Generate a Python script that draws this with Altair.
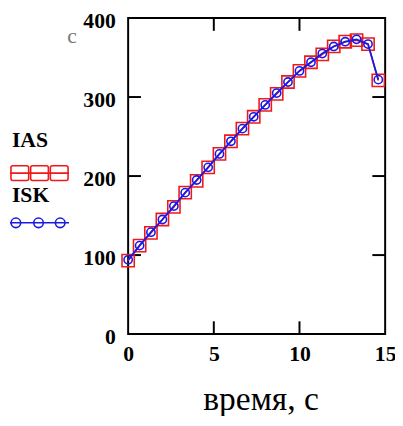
import altair as alt
import pandas as pd

# ---- data ----
time_s = [0, 0.67, 1.33, 2, 2.67, 3.33, 4, 4.67, 5.33, 6, 6.67, 7.33,
          8, 8.67, 9.33, 10, 10.67, 11.33, 12, 12.67, 13.33, 14, 14.6]
ias = [93, 112, 128, 145, 161, 179, 194, 211, 228, 244, 260, 275,
       290, 304, 319, 333, 344, 354, 364, 370, 372, 367, 321]
isk = [94, 112, 129, 145, 162, 179, 195, 211, 228, 244, 260, 275,
       290, 305, 319, 333, 344, 355, 364, 370, 373, 367, 322]
series_names = ["IAS", "ISK"]
x_tick_labels = [0, 5, 10, 15]
y_tick_labels = [0, 100, 200, 300, 400]
x_inner_ticks = [5, 10]
y_inner_ticks = [100, 200, 300]
x_title = "время, с"

RED = "#f01818"
BLUE = "#1a1ae6"
SERIF = "Liberation Serif"
W, H = 261, 321
TICK = 13

n = len(time_s)
df = pd.DataFrame({
    "t": time_s + time_s,
    "v": ias + isk,
    "s": [series_names[0]] * n + [series_names[1]] * n,
})

xs = alt.Scale(domain=[0, 15], nice=False, zero=False)
ys = alt.Scale(domain=[0, 400], nice=False, zero=False)

x_axis = alt.Axis(values=x_tick_labels, grid=False, domain=False, ticks=False,
                  labelFont=SERIF, labelFontWeight="bold", labelFontSize=22,
                  labelColor="black", labelPadding=10, labelAngle=0,
                  labelFlush=False, titleFont=SERIF, titleFontSize=34,
                  titleFontWeight="normal", titleColor="black", titlePadding=19,
                  titleX=W / 2 + 4)
y_axis = alt.Axis(values=y_tick_labels, grid=False, domain=False, ticks=False,
                  labelFont=SERIF, labelFontWeight="bold", labelFontSize=22,
                  labelColor="black", labelPadding=13, labelFlush=False,
                  labelOffset=2.5)


def X(field):
    return alt.X(field, type="quantitative", scale=xs, axis=x_axis, title=x_title)


def Y(field):
    return alt.Y(field, type="quantitative", scale=ys, axis=y_axis, title=None)


base = alt.Chart(df)
red_line = base.transform_filter(alt.datum.s == series_names[0]).mark_line(
    color=RED, strokeWidth=1.6).encode(x=X("t"), y=Y("v"))
red_pts = base.transform_filter(alt.datum.s == series_names[0]).mark_point(
    shape="square", size=155, filled=False, color=RED, strokeWidth=1.6, opacity=1
).encode(x=X("t"), y=Y("v"))
blue_line = base.transform_filter(alt.datum.s == series_names[1]).mark_line(
    color=BLUE, strokeWidth=1.8).encode(x=X("t"), y=Y("v"))
blue_pts = base.transform_filter(alt.datum.s == series_names[1]).mark_point(
    shape="circle", size=70, filled=False, color=BLUE, strokeWidth=1.6, opacity=1
).encode(x=X("t"), y=Y("v"))

# inner ticks on all four sides
yt = alt.Chart(pd.DataFrame({"tv": y_inner_ticks}))
xt = alt.Chart(pd.DataFrame({"tt": x_inner_ticks}))
left_ticks = yt.mark_rule(color="black", strokeWidth=2).encode(
    y=Y("tv"), x=alt.value(0), x2=alt.value(TICK))
right_ticks = yt.mark_rule(color="black", strokeWidth=2).encode(
    y=Y("tv"), x=alt.value(W - TICK), x2=alt.value(W))
bottom_ticks = xt.mark_rule(color="black", strokeWidth=2).encode(
    x=X("tt"), y=alt.value(H - TICK), y2=alt.value(H))
top_ticks = xt.mark_rule(color="black", strokeWidth=2).encode(
    x=X("tt"), y=alt.value(0), y2=alt.value(TICK))

# legend (labels above symbols, to the left of the plot)
one = alt.Chart(pd.DataFrame({"a": [0]}))
legend_layers = [
    one.mark_text(text=series_names[0], font=SERIF, fontWeight="bold", fontSize=22,
                  align="left", baseline="middle", color="black").encode(
        x=alt.value(-118), y=alt.value(124)),
    one.mark_text(text=series_names[1], font=SERIF, fontWeight="bold", fontSize=22,
                  align="left", baseline="middle", color="black").encode(
        x=alt.value(-118), y=alt.value(180)),
]
for x0 in [-120, -100, -80]:
    legend_layers.append(one.mark_rect(filled=False, stroke=RED, strokeWidth=1.6,
                                       cornerRadius=2).encode(
        x=alt.value(x0 + 1), x2=alt.value(x0 + 19),
        y=alt.value(150), y2=alt.value(165)))
legend_layers.append(one.mark_rule(color=RED, strokeWidth=1.6).encode(
    x=alt.value(-120), x2=alt.value(-60), y=alt.value(157.5)))
legend_layers.append(one.mark_rule(color=BLUE, strokeWidth=1.6).encode(
    x=alt.value(-120), x2=alt.value(-60), y=alt.value(208)))
for cx in [-114, -91, -69]:
    legend_layers.append(one.mark_point(shape="circle", size=95, filled=False,
                                        color=BLUE, strokeWidth=1.6, opacity=1).encode(
        x=alt.value(cx), y=alt.value(208)))

# faint clipped glyph at top-left
faint = one.mark_text(text="с", font=SERIF, fontSize=22, color="#777",
                      align="center", baseline="middle").encode(
    x=alt.value(-57), y=alt.value(18))

chart = alt.layer(
    left_ticks, right_ticks, bottom_ticks, top_ticks,
    red_line, red_pts, blue_line, blue_pts,
    faint, *legend_layers
).properties(
    width=W, height=H,
    padding={"left": 122, "top": 7, "right": 10, "bottom": 80},
    autosize=alt.AutoSizeParams(type="none"),
    background="white",
).configure_view(stroke="black", strokeWidth=2)

chart.save("out.html", embed_options={"renderer": "svg", "actions": False})
